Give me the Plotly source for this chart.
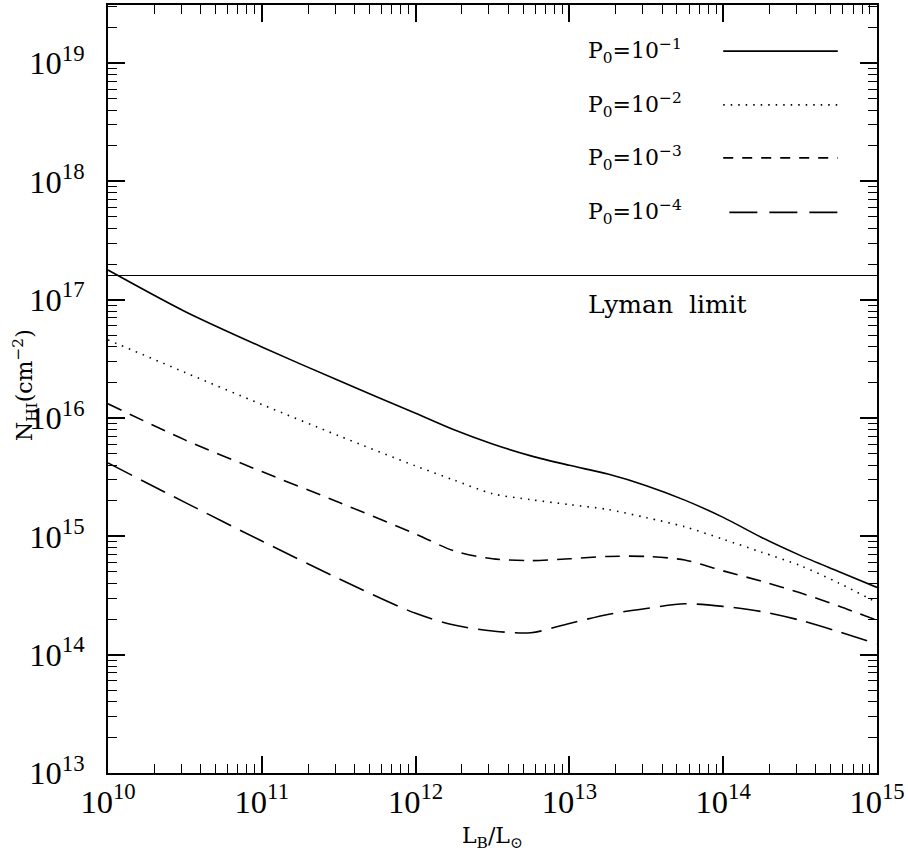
import plotly.graph_objects as go

# ---- data ----
log_L = [10.0, 10.5, 11.0, 11.5, 12.0, 12.25, 12.5, 12.75, 13.0, 13.25, 13.5,
         13.75, 14.0, 14.25, 14.5, 14.75, 15.0]
log_N_p1 = [17.25, 16.90, 16.60, 16.316, 16.04, 15.90, 15.78, 15.68, 15.60, 15.526,
            15.428, 15.306, 15.16, 14.99, 14.839, 14.703, 14.568]
log_N_p2 = [16.66, 16.385, 16.114, 15.85, 15.595, 15.475, 15.36, 15.31, 15.268,
            15.227, 15.158, 15.081, 14.975, 14.866, 14.753, 14.606, 14.44]
log_N_p3 = [16.12, 15.815, 15.547, 15.288, 15.019, 14.877, 14.81, 14.795, 14.81,
            14.83, 14.83, 14.80, 14.708, 14.62, 14.523, 14.411, 14.29]
log_N_p4 = [15.62, 15.287, 14.96, 14.642, 14.349, 14.25, 14.20, 14.185, 14.264,
            14.34, 14.39, 14.43, 14.408, 14.364, 14.291, 14.194, 14.09]
series_labels = ["P<sub>0</sub>=10<sup>\u22121</sup>", "P<sub>0</sub>=10<sup>\u22122</sup>",
                 "P<sub>0</sub>=10<sup>\u22123</sup>", "P<sub>0</sub>=10<sup>\u22124</sup>"]
lyman_limit = 1.6e17
x_range_log = [10, 15]
y_range_log = [13, 19.49]

FONT = "DejaVu Serif"
TICKFONT = "Liberation Serif"
dashes = ["solid", "1.5px,6px", "15px,9px", "27px,10px"]
# every trace is bound to its own pair of identical (overlaid) axes so that all
# tick sets (major/minor, bottom/top, left/right) are drawn by the library
axis_pairs = [("x", "y"), ("x2", "y2"), ("x3", "y3"), ("x4", "y4")]

L = [10.0 ** v for v in log_L]
fig = go.Figure()
for vals, d, (xa, ya) in zip([log_N_p1, log_N_p2, log_N_p3, log_N_p4], dashes, axis_pairs):
    fig.add_trace(go.Scatter(x=L, y=[10.0 ** v for v in vals], mode="lines",
                             xaxis=xa, yaxis=ya,
                             line=dict(color="black", width=1.6, dash=d, shape="spline",
                                       smoothing=0.8),
                             showlegend=False, hoverinfo="skip"))

fig.add_trace(go.Scatter(x=[10.0 ** x_range_log[0], 10.0 ** x_range_log[1]],
                         y=[lyman_limit, lyman_limit], mode="lines",
                         xaxis="x5", yaxis="y5",
                         line=dict(color="black", width=1.2), showlegend=False,
                         hoverinfo="skip"))

# legend drawn inside the plot
rows_y = [0.940, 0.870, 0.801, 0.730]
legend_dashes = ["solid", "1.5px,6px", "10px,9px", "28px,12px"]
for lab, yy, d in zip(series_labels, rows_y, legend_dashes):
    fig.add_annotation(x=0.622, y=yy, xref="paper", yref="paper", text=lab,
                       showarrow=False, xanchor="left", yanchor="middle",
                       font=dict(family=FONT, size=22, color="black"))
    fig.add_shape(type="line", xref="paper", yref="paper",
                  x0=0.800 if d != "28px,12px" else 0.808, x1=0.949, y0=yy, y1=yy,
                  line=dict(color="black", width=1.6, dash=d))

fig.add_annotation(x=0.622, y=0.610, xref="paper", yref="paper", text="Lyman  limit",
                   showarrow=False, xanchor="left", yanchor="middle",
                   font=dict(family=FONT, size=25, color="black"))

fig.add_annotation(x=0.5, y=-0.084, xref="paper", yref="paper",
                   text="L<sub>B</sub>/L<sub>\u2299</sub>", showarrow=False,
                   xanchor="center", yanchor="middle",
                   font=dict(family=FONT, size=22, color="black"))
fig.add_annotation(x=-0.108, y=0.505, xref="paper", yref="paper",
                   text="N<sub>HI</sub>(cm<sup>\u22122</sup>)", showarrow=False,
                   textangle=-90, xanchor="center", yanchor="middle",
                   font=dict(family=FONT, size=22, color="black"))

base = dict(type="log", showgrid=False, zeroline=False, ticks="inside",
            tickcolor="black")
major = dict(dtick=1, ticklen=17, tickwidth=1.5)
minor = dict(dtick="D1", ticklen=9, tickwidth=1.2, showticklabels=False)

fig.update_layout(
    xaxis=dict(range=x_range_log, showline=True, linecolor="black", linewidth=2,
               mirror=True, exponentformat="power", showexponent="all",
               tickfont=dict(family=TICKFONT, size=26, color="black"), **base, **major),
    yaxis=dict(range=y_range_log, showline=True, linecolor="black", linewidth=2,
               mirror=True, exponentformat="power", showexponent="all",
               ticksuffix="\u2002",
               tickfont=dict(family=TICKFONT, size=26, color="black"), **base, **major),
    xaxis2=dict(range=x_range_log, overlaying="x", side="top", anchor="y",
                showticklabels=False, **base, **major),
    yaxis2=dict(range=y_range_log, overlaying="y", side="right", anchor="x",
                showticklabels=False, **base, **major),
    xaxis3=dict(range=x_range_log, overlaying="x", side="bottom", anchor="y", **base, **minor),
    yaxis3=dict(range=y_range_log, overlaying="y", side="left", anchor="x", **base, **minor),
    xaxis4=dict(range=x_range_log, overlaying="x", side="top", anchor="y", **base, **minor),
    yaxis4=dict(range=y_range_log, overlaying="y", side="right", anchor="x", **base, **minor),
    xaxis5=dict(range=x_range_log, overlaying="x", side="bottom", anchor="y",
                showticklabels=False, **base, **major),
    yaxis5=dict(range=y_range_log, overlaying="y", side="left", anchor="x",
                showticklabels=False, **base, **major),
    width=908, height=856, margin=dict(l=108, r=30, t=3, b=83),
    plot_bgcolor="white", paper_bgcolor="white",
    font=dict(family=FONT, color="black"),
)
fig.write_html("out.html")
